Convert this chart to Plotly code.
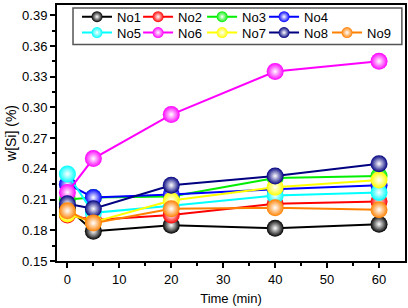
import plotly.graph_objects as go

time_min = [0, 5, 20, 40, 60]
names = ["No1", "No2", "No3", "No4", "No5", "No6", "No7", "No8", "No9"]
colors = ["#000000", "#ff0000", "#00ee00", "#0000ff", "#00ffff", "#ff00ff", "#ffff00", "#000080", "#ff8000"]
no1 = [0.202, 0.179, 0.185, 0.182, 0.186]
no2 = [0.195, 0.190, 0.195, 0.206, 0.208]
no3 = [0.210, 0.212, 0.213, 0.231, 0.233]
no4 = [0.225, 0.212, 0.215, 0.220, 0.224]
no5 = [0.235, 0.197, 0.204, 0.214, 0.217]
no6 = [0.217, 0.250, 0.293, 0.335, 0.345]
no7 = [0.196, 0.188, 0.209, 0.222, 0.229]
no8 = [0.206, 0.201, 0.224, 0.233, 0.245]
no9 = [0.199, 0.187, 0.201, 0.202, 0.200]
series = [no1, no2, no3, no4, no5, no6, no7, no8, no9]

FONT = "Liberation Sans, Arial, sans-serif"
fig = go.Figure()
for n, c, s in zip(names, colors, series):
    fig.add_trace(go.Scatter(
        x=time_min, y=s, mode="lines+markers", name=n, showlegend=False,
        line=dict(color=c, width=2),
        marker=dict(color=c, size=17, line=dict(width=0),
                    gradient=dict(type="radial", color="white")),
    ))

# legend layout: row 1 -> No1..No4, row 2 -> No5..No9
col_x = [0.0575, 0.233, 0.417, 0.595, 0.776]
row_y = [0.954, 0.892]
legend_layouts = {}
for i, (n, c) in enumerate(zip(names, colors)):
    key = "legend" if i == 0 else f"legend{i+1}"
    row, col = (0, i) if i < 4 else (1, i - 4)
    fig.add_trace(go.Scatter(
        x=[None], y=[None], mode="lines+markers", name=n, legend=key,
        line=dict(color=c, width=2),
        marker=dict(color=c, size=11, line=dict(width=0),
                    gradient=dict(type="radial", color="white")),
    ))
    legend_layouts[key] = dict(
        x=col_x[col], y=row_y[row], xanchor="left", yanchor="middle",
        bgcolor="rgba(0,0,0,0)", borderwidth=0,
        font=dict(family=FONT, size=13, color="black"))

fig.update_layout(
    width=408, height=308,
    margin=dict(l=57, r=3, t=2, b=47),
    plot_bgcolor="white", paper_bgcolor="white",
    font=dict(family=FONT, size=13, color="black"),
    shapes=[dict(type="rect", xref="paper", yref="paper", x0=0.046, x1=0.991,
                 y0=0.846, y1=0.988, line=dict(color="#555555", width=1.5),
                 fillcolor="rgba(0,0,0,0)", layer="below")],
    xaxis=dict(range=[-2, 65], tickvals=[0, 10, 20, 30, 40, 50, 60],
               ticks="outside", ticklen=5, tickwidth=1.5, tickcolor="black",
               minor=dict(tickvals=[5, 15, 25, 35, 45, 55], ticks="outside", ticklen=3, tickwidth=1.5, tickcolor="black"),
               showline=True, linecolor="black", linewidth=2, mirror=True,
               showgrid=False, zeroline=False,
               title=dict(text="Time (min)", font=dict(size=13), standoff=8),
               tickfont=dict(size=13)),
    yaxis=dict(range=[0.15, 0.40], tickvals=[0.15, 0.18, 0.21, 0.24, 0.27, 0.30, 0.33, 0.36, 0.39],
               tickformat=".2f",
               ticks="outside", ticklen=5, tickwidth=1.5, tickcolor="black",
               minor=dict(tickvals=[0.165, 0.195, 0.225, 0.255, 0.285, 0.315, 0.345, 0.375], ticks="outside", ticklen=3, tickwidth=1.5, tickcolor="black"),
               showline=True, linecolor="black", linewidth=2, mirror=True,
               showgrid=False, zeroline=False,
               title=dict(text="w[Si] (%)", font=dict(size=14), standoff=2),
               tickfont=dict(size=13)),
)
fig.update_layout(**legend_layouts)
fig.write_html("out.html", config={"displayModeBar": False},
               post_script="document.body.style.margin='0';")
